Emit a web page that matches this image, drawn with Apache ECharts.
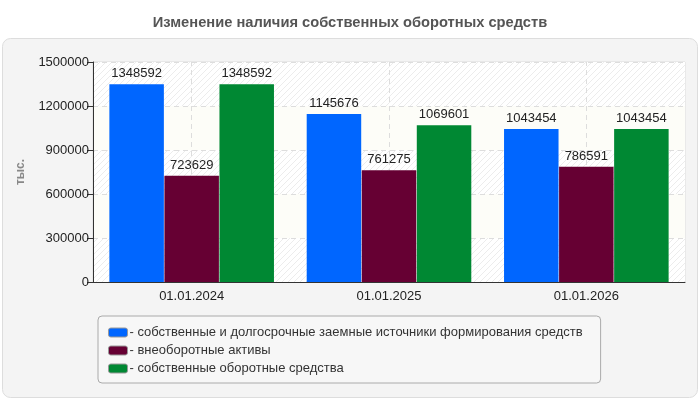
<!DOCTYPE html>
<html>
<head>
<meta charset="utf-8">
<script src="https://cdn.jsdelivr.net/npm/echarts@6/dist/echarts.min.js"></script>
<style>
  html, body { margin: 0; padding: 0; background: #fff; }
  #chart { width: 700px; height: 400px; }
</style>
</head>
<body>
<div id="chart"></div>
<script>
// данные графика
var categories = ['01.01.2024', '01.01.2025', '01.01.2026'];
var seriesNames = [
  'собственные и долгосрочные заемные источники формирования средств',
  'внеоборотные активы',
  'собственные оборотные средства'
];
var sourcesValues = [1348592, 1145676, 1043454];
var fixedAssetsValues = [723629, 761275, 786591];
var workingCapitalValues = [1348592, 1069601, 1043454];
var yTicks = [0, 300000, 600000, 900000, 1200000, 1500000];

var colors = ['#0066ff', '#660033', '#008833'];

// штриховка для полос фона
function makeHatch() {
  var c = document.createElement('canvas');
  c.width = 6; c.height = 6;
  var ctx = c.getContext('2d');
  ctx.fillStyle = '#ffffff';
  ctx.fillRect(0, 0, 6, 6);
  ctx.strokeStyle = '#ececec';
  ctx.lineWidth = 1;
  ctx.beginPath();
  ctx.moveTo(0, 6); ctx.lineTo(6, 0);
  ctx.moveTo(-1, 1); ctx.lineTo(1, -1);
  ctx.moveTo(5, 7); ctx.lineTo(7, 5);
  ctx.stroke();
  return c;
}
var hatch = { image: makeHatch(), repeat: 'repeat' };

var chart = echarts.init(document.getElementById('chart'));

function barSeries(i, values) {
  return {
    name: seriesNames[i],
    type: 'bar',
    data: values,
    barWidth: 54.5,
    barGap: '1%',
    itemStyle: { color: colors[i] },
    label: {
      show: true,
      position: 'top',
      distance: 4,
      color: '#222',
      fontSize: 13
    },
    z: 3
  };
}

var option = {
  animation: false,
  textStyle: { fontFamily: 'Arial, Liberation Sans, sans-serif' },
  title: {
    text: 'Изменение наличия собственных оборотных средств',
    left: 'center',
    top: 10,
    textStyle: { fontSize: 14.7, fontWeight: 'bold', color: '#555' }
  },
  graphic: [{
    type: 'rect',
    z: -10,
    shape: { x: 2.5, y: 38.5, width: 695, height: 359, r: 8 },
    style: { fill: '#f4f4f4', stroke: '#dddddd', lineWidth: 1 }
  }],
  grid: {
    left: 93, right: 15, top: 62, bottom: 118,
    show: true,
    borderColor: '#dddddd',
    borderWidth: 1,
    backgroundColor: '#fdfdf8'
  },
  legend: {
    orient: 'vertical',
    left: 98,
    top: 316,
    padding: [10, 18, 8, 10],
    itemGap: 5,
    itemWidth: 19,
    itemHeight: 9,
    backgroundColor: '#f7f7f7',
    borderColor: '#aaaaaa',
    borderWidth: 1,
    borderRadius: 4,
    icon: 'roundRect',
    itemStyle: { borderColor: '#999', borderWidth: 1 },
    textStyle: { fontSize: 13, color: '#333', padding: [0, 0, 0, -3] },
    formatter: function (n) { return '- ' + n; },
    data: seriesNames
  },
  xAxis: {
    type: 'category',
    data: categories,
    axisLine: { lineStyle: { color: '#333' } },
    axisTick: { alignWithLabel: true, length: 5, lineStyle: { color: '#333' } },
    axisLabel: { color: '#222', fontSize: 13, margin: 8 },
    splitLine: { show: false }
  },
  yAxis: {
    type: 'value',
    min: yTicks[0],
    max: yTicks[yTicks.length - 1],
    interval: yTicks[1] - yTicks[0],
    name: 'тыс.',
    nameLocation: 'middle',
    nameGap: 66,
    nameTextStyle: { color: '#888', fontWeight: 'bold', fontSize: 12 },
    axisLine: { show: true, lineStyle: { color: '#333' } },
    axisTick: { show: true, length: 6, lineStyle: { color: '#333' } },
    axisLabel: {
      color: '#222', fontSize: 13, margin: 4,
      formatter: function (v) { return String(v); }
    },
    splitLine: { lineStyle: { color: '#dddddd', type: [5, 4] } },
    splitArea: { show: true, areaStyle: { color: [hatch, '#fdfdf8'] } }
  },
  series: [
    {
      // вертикальные пунктирные линии по центрам категорий
      type: 'line',
      data: [],
      z: 1,
      silent: true,
      markLine: {
        z: 1,
        symbol: 'none',
        silent: true,
        label: { show: false },
        lineStyle: { color: '#dddddd', type: [5, 4], width: 1 },
        data: categories.map(function (c) { return { xAxis: c }; })
      }
    },
    barSeries(0, sourcesValues),
    barSeries(1, fixedAssetsValues),
    barSeries(2, workingCapitalValues)
  ]
};

chart.setOption(option);
</script>
</body>
</html>
